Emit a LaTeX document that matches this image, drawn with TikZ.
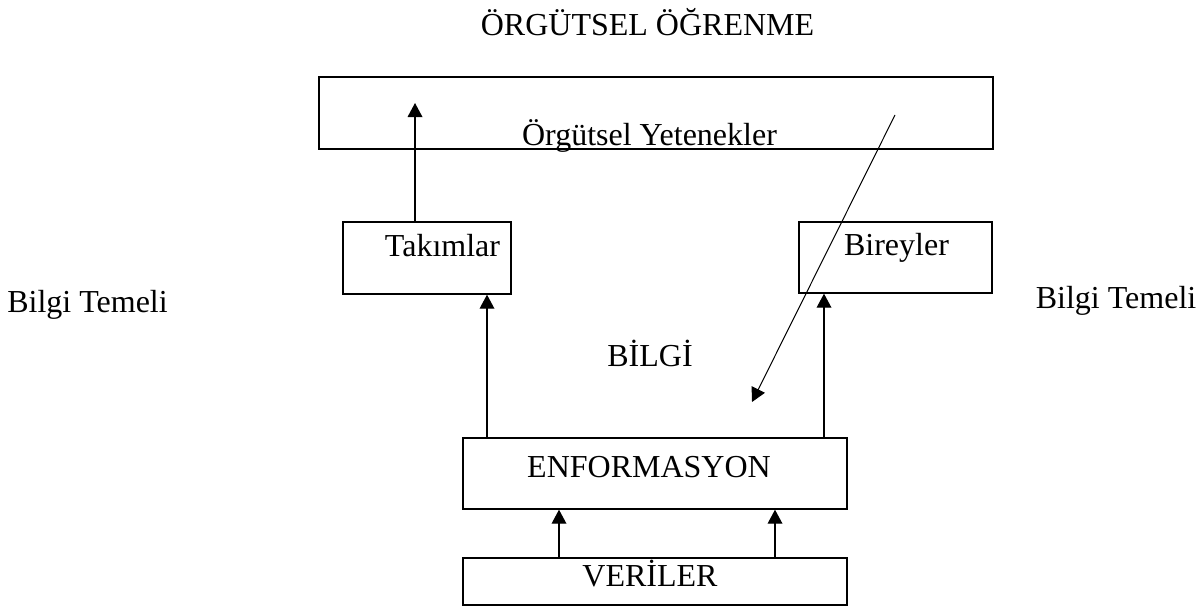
\documentclass[tikz,border=0pt]{standalone}
\usepackage{fontspec}
\setmainfont{Liberation Serif}
\usetikzlibrary{arrows.meta}
\begin{document}
\begin{tikzpicture}[x=0.75pt,y=-0.75pt,
  box/.style={draw,line width=1pt,rectangle,inner sep=0pt},
  lbl/.style={font=\fontsize{24}{28}\selectfont,anchor=base,inner sep=0pt},
  up/.style={line width=1pt,-{Triangle[length=10.5pt,width=11pt]}},
  thin/.style={line width=0.75pt,-{Triangle[length=10.5pt,width=11pt]}}]
\useasboundingbox (0,0) rectangle (1201,608);

% boxes
\node[box,minimum width=674*0.75pt,minimum height=72*0.75pt] (yet) at (656,113) {};
\node[box,minimum width=168*0.75pt,minimum height=72*0.75pt] (tak) at (427,258) {};
\node[box,minimum width=193*0.75pt,minimum height=71*0.75pt] (bir) at (895.5,257.5) {};
\node[box,minimum width=384*0.75pt,minimum height=71*0.75pt] (enf) at (655,473.5) {};
\node[box,minimum width=384*0.75pt,minimum height=47*0.75pt] (ver) at (655,581.5) {};

% texts
\node[lbl] (title) at (647.5,35) {ÖRGÜTSEL ÖĞRENME};
\node[lbl] (tyet) at (649.5,145) {Örgütsel Yetenekler};
\node[lbl] (ttak) at (442.5,256) {Takımlar};
\node[lbl] (tbir) at (896.5,255) {Bireyler};
\node[lbl] (bilgi) at (650,366) {BİLGİ};
\node[lbl] (tenf) at (649,477) {ENFORMASYON};
\node[lbl] (tver) at (650,586) {VERİLER};
\node[lbl] (btl) at (87.5,312) {Bilgi Temeli};
\node[lbl] (btr) at (1116,308) {Bilgi Temeli};

% helper coordinates
\coordinate (a1) at (415,103);
\coordinate (xl) at (487,0);
\coordinate (xr) at (824,0);
\coordinate (vl) at (559,0);
\coordinate (vr) at (775,0);
\coordinate (d1) at (895,115);
\coordinate (d2) at (752,402);

% connectors
\draw[up] (tak.north -| a1) -- (a1);
\draw[up] (enf.north -| xl) -- (tak.south -| xl);
\draw[up] (enf.north -| xr) -- (bir.south -| xr);
\draw[up] (ver.north -| vl) -- (enf.south -| vl);
\draw[up] (ver.north -| vr) -- (enf.south -| vr);
\draw[thin] (d1) -- (d2);
\end{tikzpicture}
\end{document}
